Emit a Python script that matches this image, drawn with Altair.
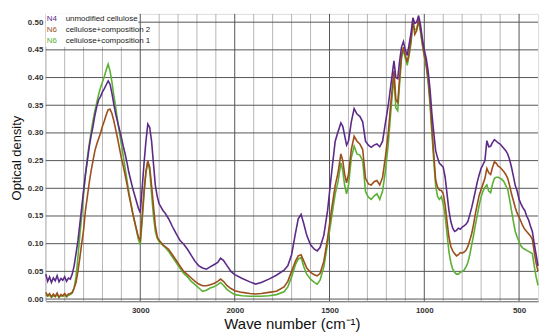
import altair as alt
import pandas as pd

# wavenumbers (cm^-1)
WN = [
    4000, 3980, 3960, 3940, 3920, 3900, 3880, 3860, 3840, 3820,
    3800, 3780, 3760, 3740, 3720, 3700, 3680, 3660, 3640, 3620,
    3600, 3580, 3560, 3540, 3520, 3500, 3480, 3460, 3440, 3420,
    3400, 3380, 3360, 3340, 3320, 3300, 3280, 3260, 3240, 3220,
    3200, 3180, 3160, 3140, 3120, 3100, 3080, 3060, 3040, 3020,
    3000, 2980, 2960, 2940, 2920, 2900, 2880, 2860, 2840, 2820,
    2800, 2780, 2760, 2740, 2700, 2660, 2620, 2580, 2540, 2500,
    2460, 2420, 2380, 2340, 2300, 2260, 2220, 2180, 2150, 2120,
    2080, 2040, 2000, 1960, 1920, 1890, 1860, 1820, 1780, 1740,
    1720, 1700, 1680, 1665, 1650, 1635, 1620, 1600, 1580, 1565,
    1550, 1530, 1510, 1490, 1470, 1455, 1440, 1430, 1420, 1410,
    1400, 1385, 1370, 1355, 1340, 1325, 1310, 1295, 1280, 1265,
    1250, 1235, 1220, 1205, 1190, 1175, 1160, 1150, 1140, 1130,
    1120, 1110, 1100, 1090, 1080, 1070, 1060, 1050, 1040, 1030,
    1020, 1010, 1000, 990, 980, 970, 960, 950, 940, 930,
    920, 910, 900, 890, 880, 870, 860, 850, 840, 830,
    820, 810, 800, 790, 780, 770, 760, 750, 740, 730,
    720, 710, 700, 690, 680, 670, 660, 650, 640, 630,
    620, 610, 600, 590, 580, 570, 560, 550, 540, 530,
    520, 510, 500, 490, 480, 470, 460, 450, 440, 430,
    420, 410, 400,
]

# N4 unmodified cellulose
N4_UNMODIFIED = [
    0.045, 0.032, 0.040, 0.030, 0.038, 0.033, 0.042, 0.031, 0.037, 0.034,
    0.040, 0.032, 0.038, 0.036, 0.045, 0.060, 0.082, 0.105, 0.135, 0.165,
    0.196, 0.225, 0.250, 0.275, 0.295, 0.312, 0.332, 0.348, 0.360, 0.366,
    0.374, 0.380, 0.387, 0.394, 0.388, 0.372, 0.352, 0.334, 0.320, 0.306,
    0.292, 0.276, 0.262, 0.246, 0.228, 0.214, 0.200, 0.188, 0.176, 0.164,
    0.156, 0.200, 0.245, 0.285, 0.316, 0.310, 0.285, 0.244, 0.205, 0.185,
    0.172, 0.166, 0.160, 0.156, 0.145, 0.131, 0.118, 0.106, 0.099, 0.090,
    0.079, 0.068, 0.060, 0.056, 0.054, 0.058, 0.062, 0.066, 0.074, 0.070,
    0.060, 0.050, 0.044, 0.037, 0.031, 0.027, 0.030, 0.036, 0.043, 0.052,
    0.060, 0.080, 0.118, 0.145, 0.153, 0.135, 0.115, 0.098, 0.090, 0.087,
    0.093, 0.115, 0.160, 0.225, 0.285, 0.302, 0.318, 0.312, 0.295, 0.278,
    0.285, 0.320, 0.344, 0.334, 0.330, 0.320, 0.285, 0.278, 0.274, 0.278,
    0.280, 0.275, 0.285, 0.318, 0.350, 0.390, 0.430, 0.400, 0.398, 0.430,
    0.455, 0.465, 0.450, 0.440, 0.460, 0.480, 0.508, 0.498, 0.500, 0.512,
    0.495, 0.470, 0.450, 0.435, 0.412, 0.380, 0.335, 0.300, 0.268, 0.255,
    0.245, 0.242, 0.238, 0.220, 0.190, 0.160, 0.140, 0.128, 0.122, 0.124,
    0.128, 0.126, 0.130, 0.132, 0.135, 0.140, 0.152, 0.165, 0.180, 0.196,
    0.212, 0.225, 0.236, 0.243, 0.250, 0.286, 0.275, 0.276, 0.283, 0.288,
    0.285, 0.282, 0.280, 0.276, 0.272, 0.268, 0.262, 0.252, 0.238, 0.222,
    0.205, 0.195, 0.180, 0.172, 0.165, 0.160, 0.150, 0.143, 0.132, 0.122,
    0.100, 0.080, 0.060,
]

# N6 cellulose+composition 2
N6_COMP2 = [
    0.012, 0.006, 0.010, 0.004, 0.009, 0.005, 0.011, 0.003, 0.008, 0.006,
    0.010, 0.005, 0.009, 0.010, 0.012, 0.020, 0.030, 0.050, 0.074, 0.100,
    0.125, 0.160, 0.185, 0.210, 0.232, 0.250, 0.268, 0.280, 0.290, 0.300,
    0.312, 0.322, 0.333, 0.342, 0.343, 0.335, 0.322, 0.306, 0.290, 0.272,
    0.255, 0.240, 0.224, 0.207, 0.188, 0.172, 0.155, 0.140, 0.126, 0.112,
    0.106, 0.150, 0.195, 0.230, 0.249, 0.238, 0.205, 0.168, 0.132, 0.112,
    0.106, 0.102, 0.098, 0.095, 0.090, 0.080, 0.070, 0.060, 0.050, 0.044,
    0.038, 0.032, 0.027, 0.024, 0.024, 0.026, 0.028, 0.032, 0.036, 0.032,
    0.024, 0.019, 0.015, 0.012, 0.010, 0.009, 0.010, 0.012, 0.014, 0.022,
    0.032, 0.050, 0.068, 0.078, 0.080, 0.068, 0.056, 0.048, 0.044, 0.042,
    0.046, 0.068, 0.110, 0.160, 0.205, 0.228, 0.262, 0.250, 0.225, 0.210,
    0.225, 0.270, 0.294, 0.285, 0.280, 0.270, 0.218, 0.208, 0.206, 0.212,
    0.214, 0.206, 0.220, 0.257, 0.300, 0.360, 0.412, 0.360, 0.355, 0.400,
    0.440, 0.455, 0.440, 0.428, 0.445, 0.468, 0.503, 0.478, 0.485, 0.505,
    0.488, 0.462, 0.442, 0.425, 0.400, 0.362, 0.310, 0.262, 0.215, 0.202,
    0.197, 0.196, 0.190, 0.170, 0.140, 0.112, 0.095, 0.087, 0.082, 0.078,
    0.080, 0.084, 0.083, 0.085, 0.088, 0.095, 0.106, 0.118, 0.135, 0.155,
    0.172, 0.188, 0.198, 0.208, 0.218, 0.236, 0.228, 0.225, 0.238, 0.248,
    0.245, 0.240, 0.238, 0.234, 0.230, 0.225, 0.218, 0.205, 0.190, 0.178,
    0.165, 0.155, 0.148, 0.140, 0.132, 0.126, 0.122, 0.118, 0.114, 0.108,
    0.085, 0.065, 0.050,
]

# N6 cellulose+composition 1
N6_COMP1 = [
    0.008, 0.005, 0.007, 0.003, 0.006, 0.004, 0.008, 0.003, 0.006, 0.005,
    0.007, 0.004, 0.007, 0.008, 0.011, 0.020, 0.040, 0.075, 0.115, 0.150,
    0.190, 0.225, 0.255, 0.280, 0.302, 0.322, 0.340, 0.355, 0.370, 0.382,
    0.392, 0.402, 0.414, 0.424, 0.412, 0.392, 0.368, 0.346, 0.322, 0.300,
    0.280, 0.258, 0.236, 0.214, 0.192, 0.174, 0.156, 0.140, 0.124, 0.108,
    0.098, 0.140, 0.190, 0.228, 0.248, 0.232, 0.190, 0.150, 0.122, 0.110,
    0.104, 0.100, 0.097, 0.094, 0.086, 0.076, 0.066, 0.056, 0.046, 0.040,
    0.032, 0.026, 0.020, 0.014, 0.016, 0.020, 0.022, 0.026, 0.030, 0.025,
    0.017, 0.012, 0.008, 0.006, 0.005, 0.005, 0.005, 0.006, 0.008, 0.013,
    0.022, 0.040, 0.062, 0.072, 0.075, 0.058, 0.045, 0.036, 0.030, 0.027,
    0.034, 0.058, 0.100, 0.145, 0.190, 0.212, 0.246, 0.232, 0.205, 0.190,
    0.205, 0.255, 0.276, 0.262, 0.260, 0.250, 0.194, 0.184, 0.180, 0.186,
    0.190, 0.180, 0.195, 0.232, 0.280, 0.345, 0.402, 0.345, 0.340, 0.390,
    0.435, 0.450, 0.435, 0.422, 0.440, 0.462, 0.500, 0.486, 0.488, 0.500,
    0.482, 0.458, 0.438, 0.420, 0.392, 0.352, 0.300, 0.250, 0.205, 0.185,
    0.180, 0.185, 0.172, 0.150, 0.118, 0.085, 0.066, 0.054, 0.048, 0.045,
    0.045, 0.048, 0.050, 0.052, 0.058, 0.066, 0.080, 0.098, 0.115, 0.135,
    0.152, 0.170, 0.185, 0.195, 0.202, 0.206, 0.195, 0.192, 0.208, 0.218,
    0.220, 0.220, 0.218, 0.216, 0.212, 0.205, 0.198, 0.180, 0.160, 0.140,
    0.122, 0.112, 0.104, 0.096, 0.092, 0.090, 0.088, 0.086, 0.084, 0.082,
    0.060, 0.040, 0.025,
]

CODES = ["N4", "N6", "N6"]
NAMES = ["unmodified cellulose", "cellulose+composition 2", "cellulose+composition 1"]
COLORS = ["#5c2a88", "#9c4f1c", "#5cb034"]

X_MAJOR = [3000, 2000, 1500, 1000, 500]
X_MINOR = [4000, 3800, 3600, 3400, 3200, 2800, 2600, 2400, 2200,
           1900, 1800, 1700, 1600, 1400, 1300, 1200, 1100, 900, 800, 700, 600]
Y_TICKS = [0.00, 0.05, 0.10, 0.15, 0.20, 0.25, 0.30, 0.35, 0.40, 0.45, 0.50]

FONT = "Liberation Sans"
W, H = 495, 289

xscale = alt.Scale(domain=[4000, 2000, 400], range=[0, 190, W], nice=False, zero=False)
yscale = alt.Scale(domain=[-0.004, 0.515], nice=False, zero=False)

XAXIS = alt.Axis(
    values=X_MAJOR, format="d", title="Wave number (cm⁻¹)", grid=False,
    ticks=False, domain=True, domainColor="#666", labelFont=FONT,
    labelFontSize=8, labelFontWeight="bold", labelColor="#333",
    labelPadding=5, titleFont=FONT, titleFontSize=15,
    titleFontWeight="normal", titleColor="#111", titlePadding=2)
YAXIS = alt.Axis(
    values=Y_TICKS, format=".2f", title="Optical density", grid=False,
    ticks=False, domain=False, labelFont=FONT, labelFontSize=8,
    labelFontWeight="bold", labelColor="#333", labelPadding=3,
    titleFont=FONT, titleFontSize=13, titleFontWeight="normal",
    titleColor="#111", titlePadding=4)


def xenc(field):
    return alt.X(field, scale=xscale, axis=XAXIS, title="Wave number (cm⁻¹)")


def yenc(field):
    return alt.Y(field, scale=yscale, axis=YAXIS, title="Optical density")


minor_grid = alt.Chart(pd.DataFrame({"wn": X_MINOR})).mark_rule(
    color="#b5b5b5", strokeWidth=1
).encode(x=xenc("wn:Q"))

major_grid = alt.Chart(pd.DataFrame({"wn": X_MAJOR})).mark_rule(
    color="#555", strokeWidth=1
).encode(x=xenc("wn:Q"))

h_grid = alt.Chart(pd.DataFrame({"od": Y_TICKS})).mark_rule(
    color="#555", strokeWidth=1
).encode(y=yenc("od:Q"))

series_vals = [N4_UNMODIFIED, N6_COMP2, N6_COMP1]
lines = []
for idx in [2, 1, 0]:
    df = pd.DataFrame({"wn": WN, "od": series_vals[idx]})
    lines.append(
        alt.Chart(df).mark_line(color=COLORS[idx], strokeWidth=1.6).encode(
            x=xenc("wn:Q"),
            y=yenc("od:Q"),
            order=alt.Order("wn:Q", sort="descending"),
        )
    )

one = pd.DataFrame({"a": [0]})
legend_bg = alt.Chart(one).mark_rect(color="white").encode(
    x=alt.value(0), x2=alt.value(93), y=alt.value(0), y2=alt.value(33)
)
legend_layers = [legend_bg]
for i in range(3):
    ypos = 5.5 + 10.8 * i
    legend_layers.append(
        alt.Chart(pd.DataFrame({"t": [CODES[i]]})).mark_text(
            align="left", baseline="middle", font=FONT, fontSize=8,
            color=COLORS[i]
        ).encode(text="t:N", x=alt.value(1), y=alt.value(ypos))
    )
    legend_layers.append(
        alt.Chart(pd.DataFrame({"t": [NAMES[i]]})).mark_text(
            align="left", baseline="middle", font=FONT, fontSize=8,
            color="#222"
        ).encode(text="t:N", x=alt.value(20), y=alt.value(ypos))
    )

chart = alt.layer(
    minor_grid, major_grid, h_grid, *lines, *legend_layers
).properties(
    width=W, height=H,
    autosize=alt.AutoSizeParams(type="none"),
    padding={"left": 38, "top": 5, "right": 4, "bottom": 30},
).configure_view(stroke=None).configure(background="white")

chart.save("out.html", embed_options={"renderer": "svg", "actions": False})
